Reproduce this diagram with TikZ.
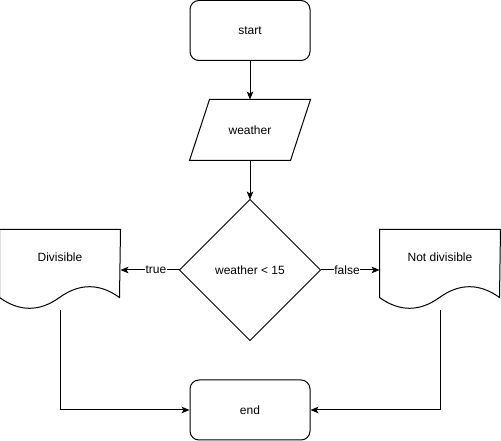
\documentclass[tikz,border=0pt]{standalone}
\usepackage{fontspec}
\setmainfont{Liberation Sans}
\usetikzlibrary{arrows.meta,calc}

% Outline of a "document" shape (flat top, wavy bottom) around a node
\newcommand\docoutline[1]{%
  \draw (#1.north west) -- (#1.north east)
    -- ($(#1.north west)+(120,68)$)
    .. controls ($(#1.north west)+(100,53.6)$) and ($(#1.north west)+(80,53.6)$) .. ($(#1.north west)+(60,68)$)
    .. controls ($(#1.north west)+(40,82.4)$) and ($(#1.north west)+(20,82.4)$) .. ($(#1.north west)+(0,68)$)
    -- cycle;}

\tikzset{
  txt/.style={font=\fontsize{9}{11}\selectfont},
  roundbox/.style={draw, rounded corners=6.75pt, minimum width=90pt, minimum height=45pt, inner sep=0pt, txt},
  plainbox/.style={minimum width=90pt, minimum height=45pt, inner sep=0pt, txt},
  docbox/.style={minimum width=90pt, minimum height=60pt, inner sep=0pt, txt},
  decision/.style={minimum width=105pt, minimum height=105pt, inner sep=0pt, txt},
  conn/.style={draw, -{Stealth[length=6pt,width=5pt,inset=1.5pt]}},
  edgelbl/.style={fill=white, inner sep=0.5pt, txt}
}

\begin{document}
\begin{tikzpicture}[x=0.75pt, y=-0.75pt, line width=0.75pt]
  \useasboundingbox (0,0) rectangle (501,441);

  % terminals
  \node[roundbox] (start) at (250,30.5) {start};
  \node[roundbox] (stop) at (250,410) {end};

  % input (parallelogram)
  \node[plainbox] (input) at (250,130) {weather};
  \draw ($(input.north west)+(20,0)$) -- (input.north east)
        -- ($(input.south east)+(-20,0)$) -- (input.south west) -- cycle;

  % decision (diamond)
  \node[decision] (cond) at (250,270) {weather {\textless} 15};
  \draw (cond.north) -- (cond.east) -- (cond.south) -- (cond.west) -- cycle;

  % outputs (documents)
  \node[docbox, label={[txt, yshift=9.75pt]center:Divisible}] (yes) at (60,270) {};
  \docoutline{yes}
  \node[docbox, label={[txt, yshift=9.75pt]center:Not divisible}] (no) at (440,270) {};
  \docoutline{no}

  % connectors
  \draw[conn] (start) -- (input);
  \draw[conn] (input.south) -- (cond.north);
  \draw[conn] (cond.west) -- node[edgelbl, pos=0.4] {true} (yes.east |- cond.west);
  \draw[conn] (cond.east) -- node[edgelbl, pos=0.45] {false} (no.west |- cond.east);
  \draw[conn] (yes.south) |- (stop.west);
  \draw[conn] (no.south) |- (stop.east);
\end{tikzpicture}
\end{document}
